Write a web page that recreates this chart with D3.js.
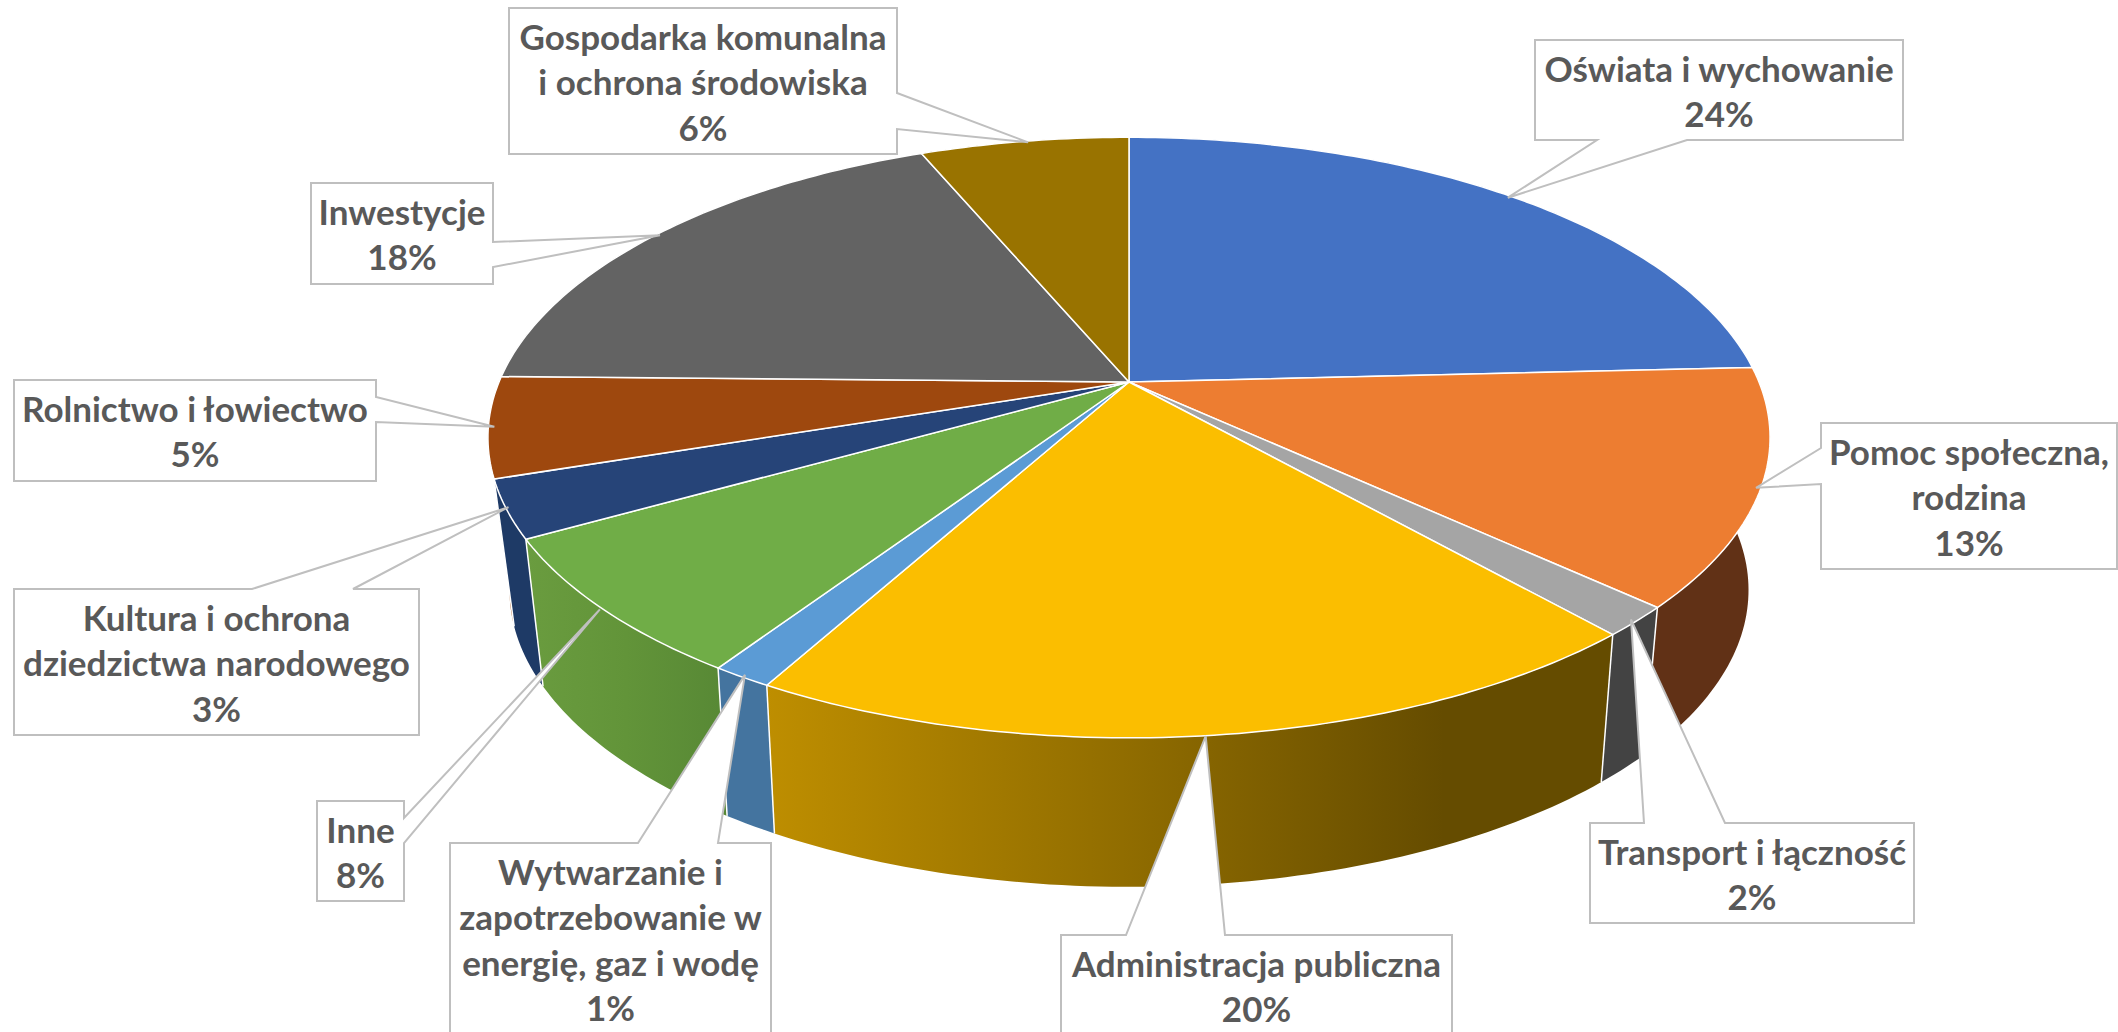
<!DOCTYPE html>
<html>
<head>
<meta charset="utf-8">
<script src="https://cdn.jsdelivr.net/npm/d3@7"></script>
<style>
    html, body { margin: 0; padding: 0; background: #fff; overflow: hidden; }
    text { font-family: Lato, sans-serif; font-weight: 700; fill: #595959; text-anchor: middle; }
</style>
</head>
<body>
<div id="chart"></div>
<script>
const categories = [
    ['Oświata i wychowanie'],
    ['Pomoc społeczna,', 'rodzina'],
    ['Transport i łączność'],
    ['Administracja publiczna'],
    ['Wytwarzanie i', 'zapotrzebowanie w', 'energię, gaz i wodę'],
    ['Inne'],
    ['Kultura i ochrona', 'dziedzictwa narodowego'],
    ['Rolnictwo i łowiectwo'],
    ['Inwestycje'],
    ['Gospodarka komunalna', 'i ochrona środowiska']
];
const sliceValues = [24.2, 12.7, 1.6, 19.5, 1.3, 7.5, 3.1, 5.4, 18.4, 6.3];
const percentLabels = ['24%', '13%', '2%', '20%', '1%', '8%', '3%', '5%', '18%', '6%'];

const topColors = ['#4472C4', '#ED7D31', '#A5A5A5', '#FBBE00', '#5B9BD5', '#70AD47', '#264478', '#9E480E', '#636363', '#997300'];
const wallColors = ['#2F4F88', '#613116', '#434343', 'url(#wall3)', '#44749F', 'url(#wall5)', '#1E3A66', '#A8561E', '#454545', '#6A5000'];

// callout boxes: [left, top, right, bottom], side the pointer leaves from, pointer base on that side, tip nudge x, y
const calloutBoxes = [
    [1535, 40, 1903, 140, 'bottom', 1597, 1687, -4, 1],
    [1821, 423, 2117, 569, 'left', 448, 484, -5, 0],
    [1590, 823, 1914, 923, 'top', 1644, 1725, -5, -2],
    [1061, 935, 1452, 1045, 'top', 1126, 1225, -8, 1],
    [450, 843, 771, 1045, 'top', 638, 718, 3, -2],
    [317, 801, 404, 901, 'right', 818, 843, -2, 1],
    [14, 589, 419, 735, 'top', 252, 353, 2, -2],
    [14, 380, 376, 481, 'right', 397, 422, 6, 0],
    [311, 183, 493, 284, 'right', 242, 267, 3, 1],
    [509, 8, 897, 154, 'right', 93, 129, 4, 1]
];

const width = 2118, height = 1032;
const center_x = 1129, center_y = 382;
const line_height = 45.4;
// perspective of the two rims, the lower one is seen from a steeper angle
const top_rim = { rx: 630, ry: 290, tilt: 0.185, y: center_y };
const bottom_rim = { rx: 607, ry: 285, tilt: 0.2, y: 530.6 };

var svg = d3.select('#chart').append('svg').attr('width', width).attr('height', height);

var defs = svg.append('defs');
function add_gradient(id, stops) {
    var grad = defs.append('linearGradient').attr('id', id).attr('x1', 0).attr('x2', 1).attr('y1', 0).attr('y2', 0);
    stops.forEach(s => grad.append('stop').attr('offset', s[0]).attr('stop-color', s[1]));
}
add_gradient('wall3', [[0, '#BE8E00'], [0.42, '#916D00'], [0.8, '#654C00'], [1, '#654C00']]);
add_gradient('wall5', [[0, '#6A9C3F'], [0.5, '#629439'], [1, '#578835']]);

// angle on the pie -> point on a rim
function project(a, rim) {
    var x = Math.sin(a), y = -Math.cos(a), w = 1 - rim.tilt * y;
    return [center_x + rim.rx * x / w, rim.y + rim.ry * y / w];
}
function arc_angles(d) {
    var n = Math.max(4, Math.ceil((d.endAngle - d.startAngle) * 60));
    return d3.range(n + 1).map(i => d.startAngle + (d.endAngle - d.startAngle) * i / n);
}
function arc_points(d, rim) {
    return arc_angles(d).map(a => project(a, rim));
}

var slices = d3.pie().sort(null).value(d => d)(sliceValues);
var line = d3.line().curve(d3.curveLinearClosed);

// wall = strip of small quads so the outline follows the straight edge between the rims
function wall_path(d) {
    var angles = arc_angles(d), path = '';
    for (var i = 0; i < angles.length - 1; i++) {
        path += line([project(angles[i], top_rim), project(angles[i + 1], top_rim),
            project(angles[i + 1], bottom_rim), project(angles[i], bottom_rim)]);
    }
    return path;
}

// walls first, far ones under near ones
var main_group = svg.append('g').attr('class', 'pie');
var wall_order = slices.slice().sort((a, b) => {
    return Math.cos((b.startAngle + b.endAngle) / 2) - Math.cos((a.startAngle + a.endAngle) / 2);
});
main_group.selectAll('.wall').data(wall_order).join('path')
    .attr('class', 'wall')
    .attr('d', wall_path)
    .attr('fill', d => wallColors[d.index]);

main_group.selectAll('.seam').data(slices).join('path')
    .attr('class', 'seam')
    .attr('d', d => d3.line()([project(d.startAngle, top_rim), project(d.startAngle, bottom_rim)]))
    .attr('stroke', '#fff')
    .attr('stroke-width', 1.5);

main_group.selectAll('.face').data(slices).join('path')
    .attr('class', 'face')
    .attr('d', d => line([[center_x, center_y]].concat(arc_points(d, top_rim))))
    .attr('fill', d => topColors[d.index])
    .attr('stroke', '#fff')
    .attr('stroke-width', 1.5)
    .attr('stroke-linejoin', 'round');

// callouts sit on top, white pointer cuts through the walls
function callout_path(box, tip) {
    var l = box[0], t = box[1], r = box[2], b = box[3], p1 = box[5], p2 = box[6];
    var pts;
    if (box[4] == 'top') pts = [[l, t], [p1, t], tip, [p2, t], [r, t], [r, b], [l, b]];
    if (box[4] == 'bottom') pts = [[l, t], [r, t], [r, b], [p2, b], tip, [p1, b], [l, b]];
    if (box[4] == 'left') pts = [[l, t], [r, t], [r, b], [l, b], [l, p2], tip, [l, p1]];
    if (box[4] == 'right') pts = [[l, t], [r, t], [r, p1], tip, [r, p2], [r, b], [l, b]];
    return line(pts);
}

var callouts = svg.append('g').attr('class', 'callouts').selectAll('g').data(slices).join('g');
callouts.append('path')
    .attr('d', d => {
        var box = calloutBoxes[d.index];
        var tip = project((d.startAngle + d.endAngle) / 2, top_rim);
        return callout_path(box, [tip[0] + box[7], tip[1] + box[8]]);
    })
    .attr('fill', '#fff')
    .attr('stroke', '#BFBFBF')
    .attr('stroke-width', 2);

callouts.each(function (d) {
    var box = calloutBoxes[d.index];
    var lines = categories[d.index].concat(percentLabels[d.index]);
    d3.select(this).selectAll('text').data(lines).join('text')
        .attr('x', (box[0] + box[2]) / 2)
        .attr('y', (s, i) => box[1] + 42 + i * line_height)
        .attr('font-size', 35)
        .text(s => s);
});
</script>
</body>
</html>
